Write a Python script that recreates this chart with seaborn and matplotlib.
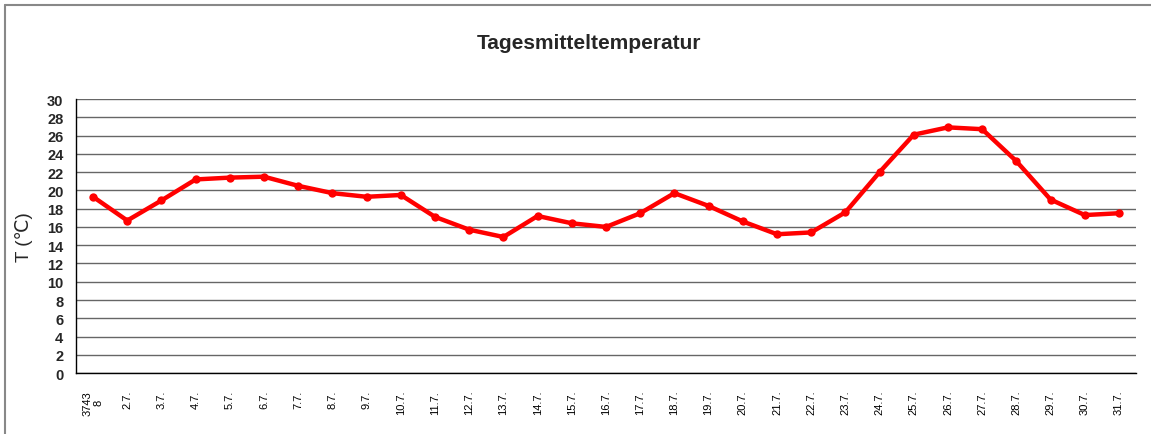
import numpy as np
import pandas as pd
import matplotlib
matplotlib.use("Agg")
import matplotlib.pyplot as plt
import seaborn as sns
from matplotlib.lines import Line2D

# --- data ---
days = ["3743\n8"] + [f"{d}.7." for d in range(2, 32)]
temps = [19.3, 16.7, 18.9, 21.2, 21.4, 21.5, 20.5, 19.7, 19.3, 19.5,
         17.1, 15.7, 14.9, 17.2, 16.4, 16.0, 17.5, 19.7, 18.3, 16.6,
         15.2, 15.4, 17.6, 22.0, 26.1, 26.9, 26.7, 23.2, 19.0, 17.3, 17.5]

df = pd.DataFrame({"pos": np.arange(len(days)), "T": temps})

sns.set_theme(style="white")
plt.rcParams["font.family"] = ["Liberation Sans", "DejaVu Sans"]

fig = plt.figure(figsize=(11.51, 4.35), dpi=100)
ax = fig.add_axes([0.066, 0.140, 0.921, 0.630])

# --- line ---
sns.lineplot(data=df, x="pos", y="T", ax=ax, color="#ff0000", linewidth=3.2,
             marker="o", markersize=6, markeredgewidth=0, sort=False)

# --- axes ---
ax.set_xlim(-0.5, len(days) - 0.5)
ax.set_ylim(0, 30)
ax.set_yticks(np.arange(0, 31, 2))
ax.set_yticklabels([str(v) for v in range(0, 31, 2)], fontsize=10.5, fontweight="bold")
ax.set_xticks(np.arange(len(days)))
ax.set_xticklabels(days, rotation=90, fontsize=8, color="black")
ax.set_xticks(np.arange(len(days) + 1) - 0.5, minor=True)
ax.tick_params(axis="x", which="major", length=0, pad=12)
ax.tick_params(axis="x", which="minor", length=4, width=0.8, color="black", direction="out")
ax.tick_params(axis="y", length=4, width=0.8, color="black", direction="out", pad=5)
ax.yaxis.grid(True, color="#666666", linewidth=1.0)
ax.set_axisbelow(True)

for s in ["top", "right"]:
    ax.spines[s].set_visible(False)
for s in ["left", "bottom"]:
    ax.spines[s].set_color("black")
    ax.spines[s].set_linewidth(1.0)

ax.set_xlabel("")
ax.set_ylabel("T (℃)", fontsize=13.5, labelpad=10)

# --- title ---
fig.text(0.512, 0.900, "Tagesmitteltemperatur", ha="center", va="center",
         fontsize=15, fontweight="bold")

# --- chart border (top & left) ---
fig.add_artist(Line2D([0.0045, 1.0], [0.986, 0.986], transform=fig.transFigure,
                      color="#888888", linewidth=1.5))
fig.add_artist(Line2D([0.0045, 0.0045], [0.0, 0.986], transform=fig.transFigure,
                      color="#888888", linewidth=1.5))

fig.savefig("out.png", dpi=100)
